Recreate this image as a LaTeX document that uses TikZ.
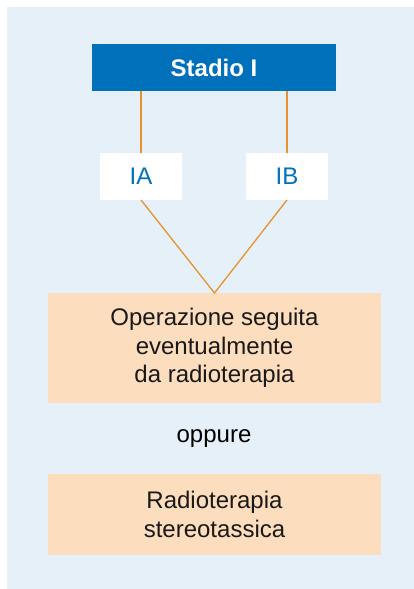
\documentclass[tikz,border=0pt]{standalone}
\usepackage{fontspec}
\setmainfont{Liberation Sans}
\definecolor{sfondo}{HTML}{E5F0F8}
\definecolor{blustadio}{HTML}{0070BA}
\definecolor{pesca}{HTML}{FCDDBE}
\definecolor{arancio}{HTML}{E8922E}

\begin{document}
\begin{tikzpicture}[x=1pt,y=-1pt,
	every node/.style={inner sep=0pt, outer sep=0pt, font=\fontsize{24}{28.5}\selectfont},
	stadio/.style={fill=blustadio, text=white, font=\bfseries\fontsize{24}{28}\selectfont, minimum width=244pt, minimum height=47pt},
	sotto/.style={fill=white, text=blustadio, minimum width=82pt, minimum height=47pt},
	cura/.style={fill=pesca, text=black!90, align=center, minimum width=333pt},
	linea/.style={draw=arancio, line width=1.3pt}]
		\useasboundingbox (0,0) rectangle (414,589);
		\fill[sfondo] (7,7) rectangle (414,589);
		
		\node[stadio] (S) at (214,67.5) {Stadio I};
		\node[sotto] (IA) at (141,176.5) {IA};
		\node[sotto] (IB) at (287,176.5) {IB};
		\node[cura, minimum height=110pt] (op) at (214.5,348) {Operazione seguita\\eventualmente\\da radioterapia};
		\node (opp) at (214,438.5) {oppure};
		\node[cura, minimum height=81pt] (rt) at (214.5,514.5) {Radioterapia\\stereotassica};
		
		\draw[linea] (S.south -| IA.north) -- (IA.north);
		\draw[linea] (S.south -| IB.north) -- (IB.north);
		\draw[linea] (IA.south) -- (op.north) -- (IB.south);
	\end{tikzpicture}
\end{document}
